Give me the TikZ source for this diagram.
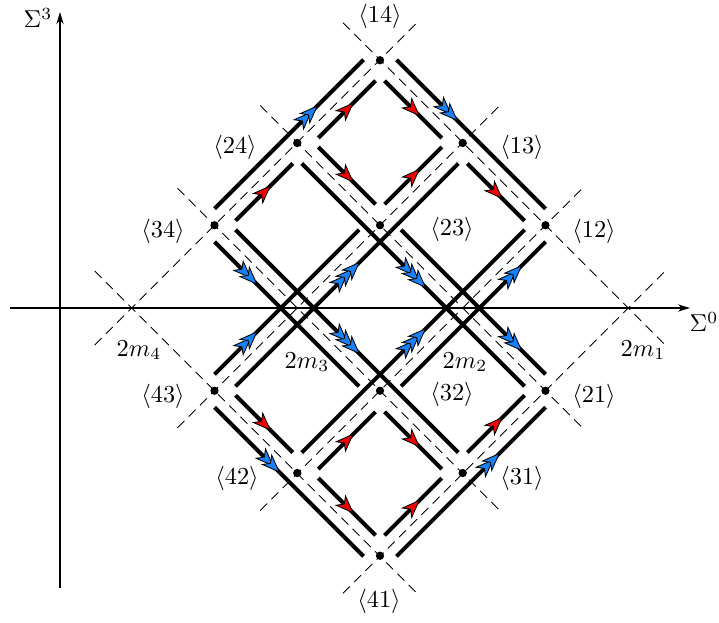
\documentclass[tikz,border=0pt]{standalone}
\usetikzlibrary{arrows.meta}
\definecolor{rd}{RGB}{240,0,0}
\definecolor{bl}{RGB}{25,130,250}
\def\Ma{628.25}\def\Mb{462.75}\def\Mc{297.25}\def\Md{131.75}
\def\OF{16.5}\def\GP{9}\def\EX{74}
% thick run along a u-line (u=#1) from v=#2 to v=#3
\newcommand{\Urun}[3]{\draw[thickline] ({((#1)+(#2))/2},{308-((#2)-(#1))/2}) -- ({((#1)+(#3))/2},{308-((#3)-(#1))/2});}
% thick run along a v-line (v=#1) from u=#2 to u=#3
\newcommand{\Vrun}[3]{\draw[thickline] ({((#2)+(#1))/2},{308-((#1)-(#2))/2}) -- ({((#3)+(#1))/2},{308-((#1)-(#3))/2});}
% arrow head on a u-line: u, v, colour, shift along
\newcommand{\hU}[4]{\filldraw[headstyle,fill=#3,shift={({((#1)+(#2))/2},{308-((#2)-(#1))/2})},rotate=45,xshift=#4] (3.5pt,0) -- (-3.5pt,2.7pt) -- (-1.5pt,0) -- (-3.5pt,-2.7pt) -- cycle;}
% arrow head on a v-line: v, u, colour, shift along
\newcommand{\hV}[4]{\filldraw[headstyle,fill=#3,shift={({((#2)+(#1))/2},{308-((#1)-(#2))/2})},rotate=-45,xshift=#4] (3.5pt,0) -- (-3.5pt,2.7pt) -- (-1.5pt,0) -- (-3.5pt,-2.7pt) -- cycle;}
\begin{document}
\begin{tikzpicture}[x=0.41pt,y=-0.41pt,
  thickline/.style={line width=1.6pt},
  dashline/.style={line width=0.4pt,dash pattern=on 4pt off 2.5pt},
  axisline/.style={line width=0.5pt},
  headstyle/.style={draw=black,line width=0.35pt},
  lbl/.style={inner sep=0pt}]
\useasboundingbox (0,0) rectangle (719,622);
% axes
\coordinate (h0) at (10,308); \coordinate (h1) at (690,308);
\coordinate (w0) at (60,588); \coordinate (w1) at (60,12);
\draw[axisline,-{Stealth[length=5pt,width=3pt]}] (h0) -- (h1);
\draw[axisline,-{Stealth[length=5pt,width=3pt]}] (w0) -- (w1);
% dashed lines
\foreach \m [count=\i] in {\Md,\Mc,\Mb,\Ma} {
  \coordinate (ua\i) at ({(\m+\Md-\EX)/2},{308-((\Md-\EX)-\m)/2});
  \coordinate (ub\i) at ({(\m+\Ma+\EX)/2},{308-((\Ma+\EX)-\m)/2});
  \coordinate (va\i) at ({(\Md-\EX+\m)/2},{308-(\m-(\Md-\EX))/2});
  \coordinate (vb\i) at ({(\Ma+\EX+\m)/2},{308-(\m-(\Ma+\EX))/2});
  \draw[dashline] (ua\i) -- (ub\i);
  \draw[dashline] (va\i) -- (vb\i);
}
% thick runs on u-lines
\Urun{\Md-\OF}{\Mc+\OF}{\Ma-\OF}
\Urun{\Md+\OF}{\Mc+\OF+\GP}{\Mb-\OF-\GP}
\Urun{\Md+\OF}{\Mb+\OF+\GP}{\Ma-\OF-\GP}
\Urun{\Mc-\OF}{\Md+\OF}{\Mb-\OF-\GP}
\Urun{\Mc-\OF}{\Mb+\OF+\GP}{\Ma-\OF-\GP}
\Urun{\Mc+\OF}{\Md+\OF+\GP}{\Ma-\OF-\GP}
\Urun{\Mb-\OF}{\Md+\OF+\GP}{\Ma-\OF-\GP}
\Urun{\Mb+\OF}{\Md+\OF+\GP}{\Mc-\OF-\GP}
\Urun{\Mb+\OF}{\Mc+\OF+\GP}{\Ma-\OF}
\Urun{\Ma-\OF}{\Md+\OF+\GP}{\Mc-\OF-\GP}
\Urun{\Ma-\OF}{\Mc+\OF+\GP}{\Mb-\OF-\GP}
\Urun{\Ma+\OF}{\Md+\OF}{\Mb-\OF}
% thick runs on v-lines
\Vrun{\Md-\OF}{\Mc+\OF}{\Ma-\OF}
\Vrun{\Md+\OF}{\Mc+\OF+\GP}{\Mb-\OF-\GP}
\Vrun{\Md+\OF}{\Mb+\OF+\GP}{\Ma-\OF-\GP}
\Vrun{\Mc-\OF}{\Md+\OF}{\Mb-\OF-\GP}
\Vrun{\Mc-\OF}{\Mb+\OF+\GP}{\Ma-\OF-\GP}
\Vrun{\Mc+\OF}{\Md+\OF+\GP}{\Ma-\OF-\GP}
\Vrun{\Mb-\OF}{\Md+\OF+\GP}{\Ma-\OF-\GP}
\Vrun{\Mb+\OF}{\Md+\OF+\GP}{\Mc-\OF-\GP}
\Vrun{\Mb+\OF}{\Mc+\OF+\GP}{\Ma-\OF}
\Vrun{\Ma-\OF}{\Md+\OF+\GP}{\Mc-\OF-\GP}
\Vrun{\Ma-\OF}{\Mc+\OF+\GP}{\Mb-\OF-\GP}
\Vrun{\Ma+\OF}{\Md+\OF}{\Mb-\OF}
% dots
\foreach \nm/\px/\py in {14/380/60.25, 24/297.25/143, 13/462.75/143, 34/214.5/225.25, 23/380/225.25, 12/545.5/225.25,
  43/214.5/390.75, 32/380/390.75, 21/545.5/390.75, 42/297.25/473, 31/462.75/473, 41/380/555.75} {
  \coordinate (d\nm) at (\px,\py);
  \fill (d\nm) circle (1.7pt);
}
% red heads
\hU{\Md+\OF}{(\Mc+\Mb)/2}{rd}{0pt}
\hU{\Md+\OF}{(\Mb+\Ma)/2}{rd}{0pt}
\hU{\Mc-\OF}{(\Mb+\Ma)/2}{rd}{0pt}
\hU{\Mb+\OF}{(\Md+\Mc)/2}{rd}{0pt}
\hU{\Ma-\OF}{(\Md+\Mc)/2}{rd}{0pt}
\hU{\Ma-\OF}{(\Mc+\Mb)/2}{rd}{0pt}
\hV{\Ma-\OF}{(\Md+\Mc)/2}{rd}{0pt}
\hV{\Mb+\OF}{(\Md+\Mc)/2}{rd}{0pt}
\hV{\Ma-\OF}{(\Mc+\Mb)/2}{rd}{0pt}
\hV{\Md+\OF}{(\Mc+\Mb)/2}{rd}{0pt}
\hV{\Mc-\OF}{(\Mb+\Ma)/2}{rd}{0pt}
\hV{\Md+\OF}{(\Mb+\Ma)/2}{rd}{0pt}
% blue triple heads (centre cell)
\foreach \s in {-3.6pt,0pt,3.6pt} {
  \hU{\Mc+\OF}{(\Mc+\Mb)/2}{bl}{\s}
  \hU{\Mb-\OF}{(\Mc+\Mb)/2}{bl}{\s}
  \hV{\Mb-\OF}{(\Mc+\Mb)/2}{bl}{\s}
  \hV{\Mc+\OF}{(\Mc+\Mb)/2}{bl}{\s}
}
% blue double heads
\foreach \s in {-1.8pt,1.8pt} {
  \hU{\Md-\OF}{500.75}{bl}{\s}
  \hU{\Mc-\OF}{(\Md+\Mc)/2}{bl}{\s}
  \hU{\Mb+\OF}{(\Mb+\Ma)/2}{bl}{\s}
  \hU{\Ma+\OF}{335.25}{bl}{\s}
  \hV{\Ma+\OF}{251.25}{bl}{\s}
  \hV{\Mc-\OF}{(\Md+\Mc)/2}{bl}{\s}
  \hV{\Mb+\OF}{(\Mb+\Ma)/2}{bl}{\s}
  \hV{\Md-\OF}{424.75}{bl}{\s}
}
% labels
\node[lbl] (l14) at (380,16) {$\langle 14\rangle$};
\node[lbl] (l24) at (235,147) {$\langle 24\rangle$};
\node[lbl] (l13) at (522,147) {$\langle 13\rangle$};
\node[lbl] (l34) at (163,231) {$\langle 34\rangle$};
\node[lbl] (l23) at (452,229) {$\langle 23\rangle$};
\node[lbl] (l12) at (594,231) {$\langle 12\rangle$};
\node[lbl] (l43) at (163,396) {$\langle 43\rangle$};
\node[lbl] (l32) at (452,394) {$\langle 32\rangle$};
\node[lbl] (l21) at (594,396) {$\langle 21\rangle$};
\node[lbl] (l42) at (237,478) {$\langle 42\rangle$};
\node[lbl] (l31) at (522,478) {$\langle 31\rangle$};
\node[lbl] (l41) at (379,601) {$\langle 41\rangle$};
\node[lbl] (m4) at (139,350) {$2m_4$};
\node[lbl] (m3) at (307,362) {$2m_3$};
\node[lbl] (m2) at (465,362) {$2m_2$};
\node[lbl] (m1) at (643,350) {$2m_1$};
\node[lbl] (s0) at (704,322) {$\Sigma^0$};
\node[lbl] (s3) at (38,18) {$\Sigma^3$};
\end{tikzpicture}
\end{document}
